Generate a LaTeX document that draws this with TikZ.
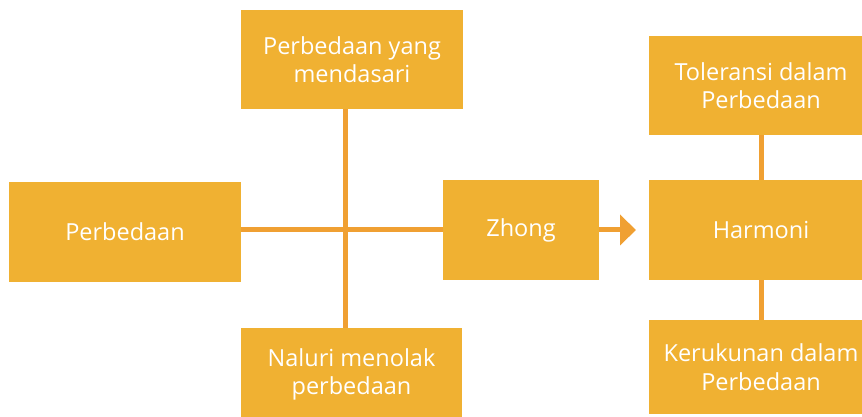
\documentclass[tikz,border=0pt]{standalone}
\usepackage{fontspec}
\setmainfont{Open Sans}
\usetikzlibrary{arrows.meta}
\definecolor{boxfill}{RGB}{240,177,50}
\definecolor{linkcol}{RGB}{240,160,50}
\tikzset{
	box/.style={fill=boxfill, text=white, inner sep=0pt, align=center,
		font=\fontsize{23.5}{28.5}\selectfont},
	link/.style={draw=linkcol, line width=5pt}
}
\begin{document}
\begin{tikzpicture}[x=1pt,y=1pt]
		
		\useasboundingbox (0,0) rectangle (862,417);
		
		\node [box, minimum width=232pt, minimum height=100pt] (perbedaan) at (125,185) {Perbedaan};
		\node [box, minimum width=222pt, minimum height=99pt] (mendasari) at (352,357.5) {Perbedaan yang\\mendasari};
		\node [box, minimum width=221pt, minimum height=93pt] (naluri) at (351.5,42.5) {Naluri menolak\\perbedaan};
		\node [box, minimum width=156pt, minimum height=100pt] (zhong) at (521,187) {Zhong};
		\node [box, minimum width=224pt, minimum height=100pt] (harmoni) at (761,187) {Harmoni};
		\node [box, minimum width=224pt, minimum height=99pt] (toleransi) at (761,331.5) {Toleransi dalam\\Perbedaan};
		\node [box, minimum width=224pt, minimum height=94pt] (kerukunan) at (761,50) {Kerukunan dalam\\Perbedaan};
		
		\coordinate (cross) at (345,187);
		\coordinate (tip) at (636,187);
		
		\draw [link] (perbedaan.east |- cross) -- (zhong.west |- cross);
		\draw [link] (mendasari.south -| cross) -- (naluri.north -| cross);
		\draw [link, -{Triangle[length=16pt,width=30pt]}] (zhong.east) -- (tip);
		\draw [link] (toleransi.south) -- (harmoni.north);
		\draw [link] (harmoni.south) -- (kerukunan.north);
		
		\end{tikzpicture}
\end{document}
